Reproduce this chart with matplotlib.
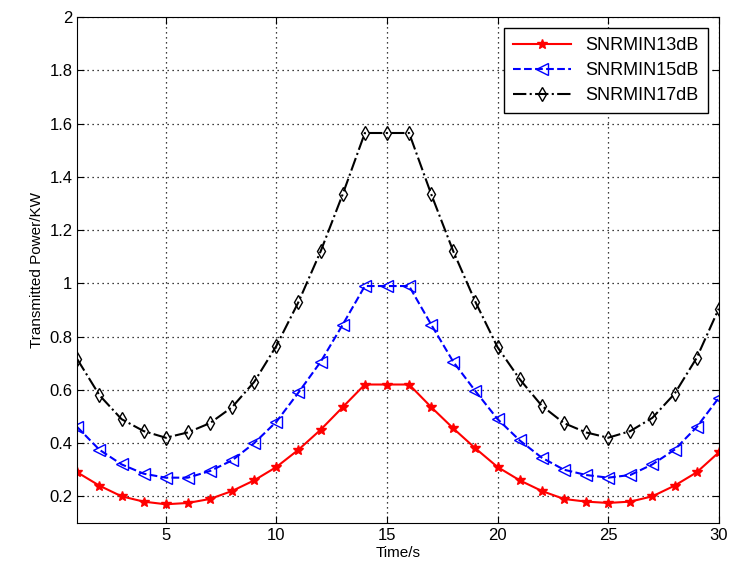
import matplotlib
matplotlib.use("Agg")
import matplotlib.pyplot as plt

plt.rcParams['font.family'] = ['Liberation Sans', 'DejaVu Sans']

t = list(range(1, 31))
snr13 = [0.29, 0.24, 0.20, 0.18, 0.17, 0.175, 0.19, 0.22, 0.26, 0.31,
         0.375, 0.45, 0.535, 0.62, 0.62, 0.62, 0.535, 0.455, 0.38, 0.31,
         0.26, 0.22, 0.19, 0.18, 0.175, 0.18, 0.20, 0.24, 0.29, 0.365]
snr15 = [0.46, 0.375, 0.32, 0.285, 0.27, 0.27, 0.295, 0.335, 0.40, 0.48,
         0.59, 0.705, 0.845, 0.99, 0.99, 0.99, 0.845, 0.705, 0.595, 0.49,
         0.41, 0.345, 0.30, 0.28, 0.27, 0.28, 0.32, 0.375, 0.46, 0.57]
snr17 = [0.715, 0.58, 0.49, 0.445, 0.42, 0.44, 0.475, 0.535, 0.63, 0.765,
         0.93, 1.12, 1.335, 1.565, 1.565, 1.565, 1.335, 1.12, 0.93, 0.76,
         0.64, 0.54, 0.475, 0.44, 0.42, 0.445, 0.495, 0.585, 0.72, 0.905]

fig = plt.figure(figsize=(7.29, 5.74), dpi=100)
ax = fig.add_axes([0.106, 0.089, 0.88, 0.881])

ax.plot(t, snr13, '-', color='red', marker='*', markersize=7, lw=1.5, label='SNRMIN13dB')
ax.plot(t, snr15, '--', color='blue', marker='<', markersize=8, lw=1.5,
        markerfacecolor='none', label='SNRMIN15dB')
ax.plot(t, snr17, '-.', color='black', marker='d', markersize=7, lw=1.5,
        markerfacecolor='none', label='SNRMIN17dB')

ax.set_xlim(1, 30)
ax.set_ylim(0.1, 2)
ax.set_xticks([5, 10, 15, 20, 25, 30])
ax.set_yticks([0.2, 0.4, 0.6, 0.8, 1, 1.2, 1.4, 1.6, 1.8, 2])
ax.set_yticklabels(['0.2', '0.4', '0.6', '0.8', '1', '1.2', '1.4', '1.6', '1.8', '2'])
ax.tick_params(direction='in', labelsize=12, top=True, right=True, length=5)
ax.grid(True, linestyle=(0, (1, 3)), color='black', linewidth=0.9)
ax.set_xlabel('Time/s', fontsize=11, labelpad=2)
ax.set_ylabel('Transmitted Power/KW', fontsize=11, labelpad=4)

ax.legend(loc='upper right', fontsize=13, fancybox=False, edgecolor='black',
          framealpha=1, borderaxespad=0.6, handlelength=3.2, labelspacing=0.45,
          borderpad=0.5)

fig.savefig('out.png', dpi=100)
